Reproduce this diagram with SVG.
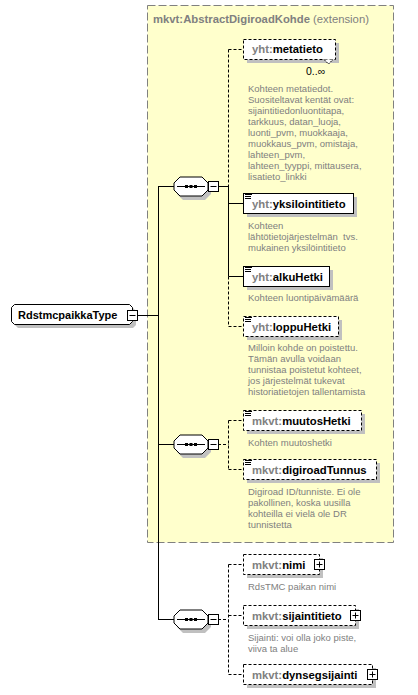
<svg xmlns="http://www.w3.org/2000/svg" width="418" height="695" viewBox="0 0 418 695">
<style>
.nm{font-family:"Liberation Sans",Arial,sans-serif;font-size:11.3px;font-weight:bold;fill:#000}
.px{fill:#808080}
.ds{font-family:"Liberation Sans",Arial,sans-serif;font-size:9.5px;fill:#808080}
.box{fill:#fff;stroke:#000;stroke-width:1}
.opt{stroke-dasharray:3,2}
.sh{fill:#c0c0c0}
.ln{stroke:#000;stroke-width:1;fill:none}
.dl{stroke:#000;stroke-width:1;fill:none;stroke-dasharray:3,2}
.ic{stroke:#000;stroke-width:1}
</style>
<defs>
<g id="seq">
<polygon class="sh" points="183,-5.5 205,-5.5 211,0.5 211,7.5 205,13.5 183,13.5 177,7.5 177,0.5"/>
<polygon class="box" points="180,-9.5 202,-9.5 208,-3.5 208,3.5 202,9.5 180,9.5 174,3.5 174,-3.5"/>
<line class="ln" x1="177" y1="0" x2="205" y2="0"/>
<rect x="185" y="-1.5" width="3" height="3" fill="#000"/>
<rect x="189.5" y="-1.5" width="3" height="3" fill="#000"/>
<rect x="194" y="-1.5" width="3" height="3" fill="#000"/>
<rect class="box" x="208.5" y="-5" width="10" height="10"/>
<line class="ln" x1="210.5" y1="0" x2="216.5" y2="0"/>
</g>
<g id="icon">
<line class="ic" x1="245" y1="0.5" x2="252" y2="0.5"/>
<line class="ic" x1="245" y1="2.5" x2="251" y2="2.5"/>
<line class="ic" x1="245" y1="4.5" x2="251" y2="4.5"/>
</g>
</defs>

<g id="extension">
<rect x="147.5" y="5.5" width="246" height="537" fill="#ffffcc" stroke="#808080" stroke-width="1" stroke-dasharray="8,3"/>
<text x="153" y="23" class="nm" style="fill:#808080">mkvt:AbstractDigiroadKohde<tspan style="font-weight:normal"> (extension)</tspan></text>
</g>

<g id="connectors">
<line class="ln" x1="137" y1="315.5" x2="158" y2="315.5"/>
<line class="ln" x1="158.5" y1="186" x2="158.5" y2="619"/>
<line class="ln" x1="158" y1="186.5" x2="174" y2="186.5"/>
<line class="ln" x1="158" y1="444.5" x2="174" y2="444.5"/>
<line class="ln" x1="158" y1="619.5" x2="174" y2="619.5"/>
<!-- group 1 -->
<line class="ln" x1="218" y1="186.5" x2="228.5" y2="186.5"/>
<line class="dl" x1="228.5" y1="49.5" x2="228.5" y2="186.5"/>
<line class="dl" x1="228.5" y1="49.5" x2="243" y2="49.5"/>
<line class="ln" x1="228.5" y1="186" x2="228.5" y2="276.5"/>
<line class="ln" x1="228.5" y1="203.5" x2="243" y2="203.5"/>
<line class="ln" x1="228.5" y1="276.5" x2="243" y2="276.5"/>
<line class="dl" x1="228.5" y1="276.5" x2="228.5" y2="326.5"/>
<line class="dl" x1="228.5" y1="326.5" x2="243" y2="326.5"/>
<!-- group 2 -->
<line class="dl" x1="218" y1="444.5" x2="228.5" y2="444.5"/>
<line class="dl" x1="228.5" y1="420.5" x2="228.5" y2="469.5"/>
<line class="dl" x1="228.5" y1="420.5" x2="243" y2="420.5"/>
<line class="dl" x1="228.5" y1="469.5" x2="243" y2="469.5"/>
<!-- group 3 -->
<line class="dl" x1="218" y1="619.5" x2="228.5" y2="619.5"/>
<line class="dl" x1="228.5" y1="564.5" x2="228.5" y2="674.5"/>
<line class="dl" x1="228.5" y1="564.5" x2="243" y2="564.5"/>
<line class="dl" x1="228.5" y1="615.5" x2="243" y2="615.5"/>
<line class="dl" x1="228.5" y1="674.5" x2="243" y2="674.5"/>
</g>

<g id="RdstmcpaikkaType">
<path class="sh" d="M18,308 H133 L136,311 V325 L133,328 H18 L15,325 V311 Z"/>
<path class="box" d="M14.5,304.5 H129.5 L132.5,307.5 V321.5 L129.5,324.5 H14.5 L11.5,321.5 V307.5 Z"/>
<text x="18" y="319" class="nm" style="font-size:11px">RdstmcpaikkaType</text>
<rect class="box" x="127.5" y="310.5" width="10" height="10"/>
<line class="ln" x1="129.5" y1="315.5" x2="135.5" y2="315.5"/>
</g>

<g id="sequence1"><use href="#seq" transform="translate(0,186.5)"/></g>
<g id="sequence2"><use href="#seq" transform="translate(0,444.5)"/></g>
<g id="sequence3"><use href="#seq" transform="translate(0,619.5)"/></g>

<g id="metatieto">
<rect class="sh" x="247" y="43" width="92" height="20"/>
<rect class="box opt" x="243.5" y="39.5" width="92" height="20"/>
<polyline points="324,59.5 328.5,64 333,59.5" fill="#fff" stroke="#000" stroke-width="1" stroke-dasharray="2,1"/>
<text x="252" y="53" class="nm"><tspan class="px">yht:</tspan>metatieto</text>
<text x="306" y="75" style="font-family:'Liberation Sans',Arial,sans-serif;font-size:10.5px;fill:#000">0..∞</text>
<text class="ds"><tspan x="248" y="92">Kohteen metatiedot.</tspan><tspan x="248" y="103">Suositeltavat kentät ovat:</tspan><tspan x="248" y="114">sijaintitiedonluontitapa,</tspan><tspan x="248" y="125">tarkkuus, datan_luoja,</tspan><tspan x="248" y="136">luonti_pvm, muokkaaja,</tspan><tspan x="248" y="147">muokkaus_pvm, omistaja,</tspan><tspan x="248" y="158">lahteen_pvm,</tspan><tspan x="248" y="169">lahteen_tyyppi, mittausera,</tspan><tspan x="248" y="180">lisatieto_linkki</tspan></text>
</g>

<g id="yksilointitieto">
<rect class="sh" x="247" y="197" width="110" height="20"/>
<rect class="box" x="243.5" y="193.5" width="110" height="20"/>
<use href="#icon" transform="translate(0,194)"/>
<text x="252" y="208" class="nm"><tspan class="px">yht:</tspan>yksilointitieto</text>
<text class="ds" style="white-space:pre"><tspan x="248" y="229">Kohteen</tspan><tspan x="248" y="240">lähtötietojärjestelmän  tvs.</tspan><tspan x="248" y="251">mukainen yksilöintitieto</tspan></text>
</g>

<g id="alkuHetki">
<rect class="sh" x="247" y="270" width="86" height="20"/>
<rect class="box" x="243.5" y="266.5" width="86" height="20"/>
<use href="#icon" transform="translate(0,267)"/>
<text x="252" y="281" class="nm"><tspan class="px">yht:</tspan>alkuHetki</text>
<text x="248" y="301" class="ds">Kohteen luontipäivämäärä</text>
</g>

<g id="loppuHetki">
<rect class="sh" x="247" y="320" width="95" height="20"/>
<rect class="box opt" x="243.5" y="316.5" width="95" height="20"/>
<use href="#icon" transform="translate(0,317)"/>
<text x="252" y="331" class="nm"><tspan class="px">yht:</tspan>loppuHetki</text>
<text class="ds"><tspan x="248" y="351">Milloin kohde on poistettu.</tspan><tspan x="248" y="362">Tämän avulla voidaan</tspan><tspan x="248" y="373">tunnistaa poistetut kohteet,</tspan><tspan x="248" y="384">jos järjestelmät tukevat</tspan><tspan x="248" y="395">historiatietojen tallentamista</tspan></text>
</g>

<g id="muutosHetki">
<rect class="sh" x="247" y="414" width="118" height="20"/>
<rect class="box opt" x="243.5" y="410.5" width="118" height="20"/>
<use href="#icon" transform="translate(0,411)"/>
<text x="252" y="425" class="nm"><tspan class="px">mkvt:</tspan>muutosHetki</text>
<text x="248" y="446" class="ds">Kohten muutoshetki</text>
</g>

<g id="digiroadTunnus">
<rect class="sh" x="247" y="463" width="133" height="20"/>
<rect class="box opt" x="243.5" y="459.5" width="133" height="20"/>
<use href="#icon" transform="translate(0,460)"/>
<text x="252" y="474" class="nm"><tspan class="px">mkvt:</tspan>digiroadTunnus</text>
<text class="ds"><tspan x="248" y="495">Digiroad ID/tunniste. Ei ole</tspan><tspan x="248" y="506">pakollinen, koska uusilla</tspan><tspan x="248" y="517">kohteilla ei vielä ole DR</tspan><tspan x="248" y="528">tunnistetta</tspan></text>
</g>

<g id="nimi">
<rect class="sh" x="247" y="558" width="76" height="20"/>
<rect class="box opt" x="243.5" y="554.5" width="76" height="20"/>
<text x="252" y="569" class="nm"><tspan class="px">mkvt:</tspan>nimi</text>
<rect class="box" x="314.5" y="559.5" width="10" height="10"/>
<line class="ln" x1="316.5" y1="564.5" x2="322.5" y2="564.5"/>
<line class="ln" x1="319.5" y1="561.5" x2="319.5" y2="567.5"/>
<text x="248" y="590" class="ds">RdsTMC paikan nimi</text>
</g>

<g id="sijaintitieto">
<rect class="sh" x="247" y="609" width="112" height="20"/>
<rect class="box opt" x="243.5" y="605.5" width="112" height="20"/>
<text x="252" y="620" class="nm"><tspan class="px">mkvt:</tspan>sijaintitieto</text>
<rect class="box" x="350.5" y="610.5" width="10" height="10"/>
<line class="ln" x1="352.5" y1="615.5" x2="358.5" y2="615.5"/>
<line class="ln" x1="355.5" y1="612.5" x2="355.5" y2="618.5"/>
<text class="ds"><tspan x="248" y="641">Sijainti: voi olla joko piste,</tspan><tspan x="248" y="652">viiva ta alue</tspan></text>
</g>

<g id="dynsegsijainti">
<rect class="sh" x="247" y="668" width="129" height="20"/>
<rect class="box opt" x="243.5" y="664.5" width="129" height="20"/>
<text x="252" y="679" class="nm"><tspan class="px">mkvt:</tspan>dynsegsijainti</text>
<rect class="box" x="367.5" y="669.5" width="10" height="10"/>
<line class="ln" x1="369.5" y1="674.5" x2="375.5" y2="674.5"/>
<line class="ln" x1="372.5" y1="671.5" x2="372.5" y2="677.5"/>
</g>
</svg>
